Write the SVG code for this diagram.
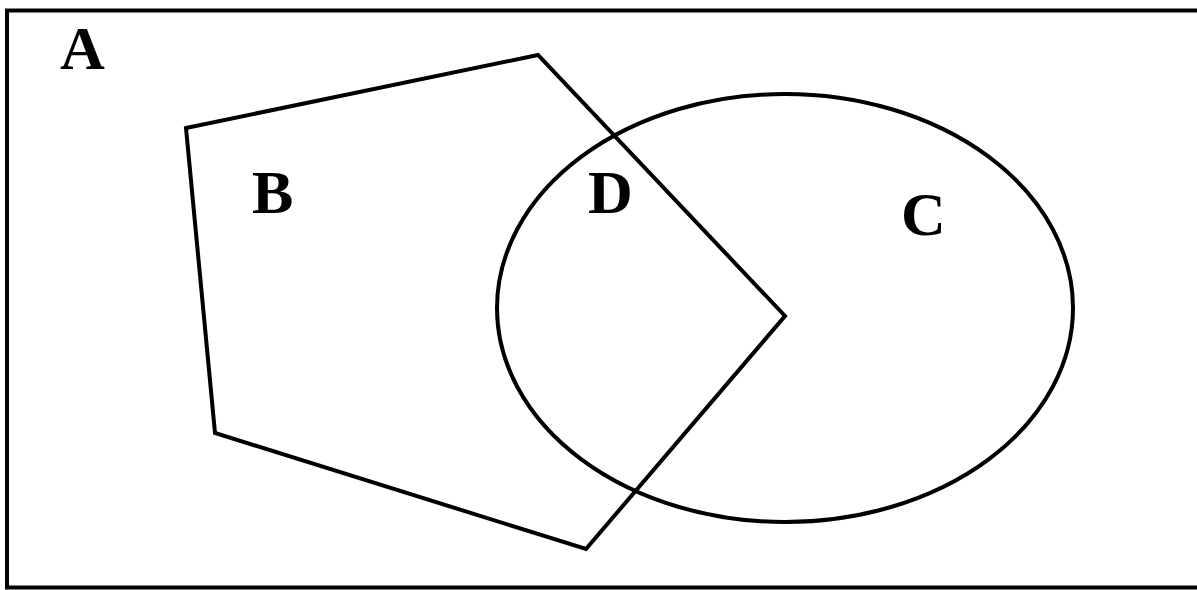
<svg xmlns="http://www.w3.org/2000/svg" width="1197" height="590" viewBox="0 0 1197 590">
<style>
.s{fill:none;stroke:#000;stroke-width:4;stroke-linejoin:miter}
.t{font-family:"Liberation Serif","Times New Roman",serif;font-weight:bold;font-size:62px;fill:#000}
</style>
<rect width="1197" height="590" fill="#fff"/>
<g id="A">
<rect class="s" x="7" y="10.5" width="1192" height="577"/>
<text class="t" x="60" y="69">A</text>
</g>
<g id="B">
<polygon class="s" points="186,128 538,55 785,316 586,549 215,433"/>
<text class="t" x="252" y="213">B</text>
</g>
<g id="C">
<ellipse class="s" cx="785" cy="308" rx="288" ry="214"/>
<text class="t" x="901" y="235">C</text>
</g>
<g id="D">
<text class="t" x="588" y="213">D</text>
</g>
<g id="connectors"/>
</svg>
